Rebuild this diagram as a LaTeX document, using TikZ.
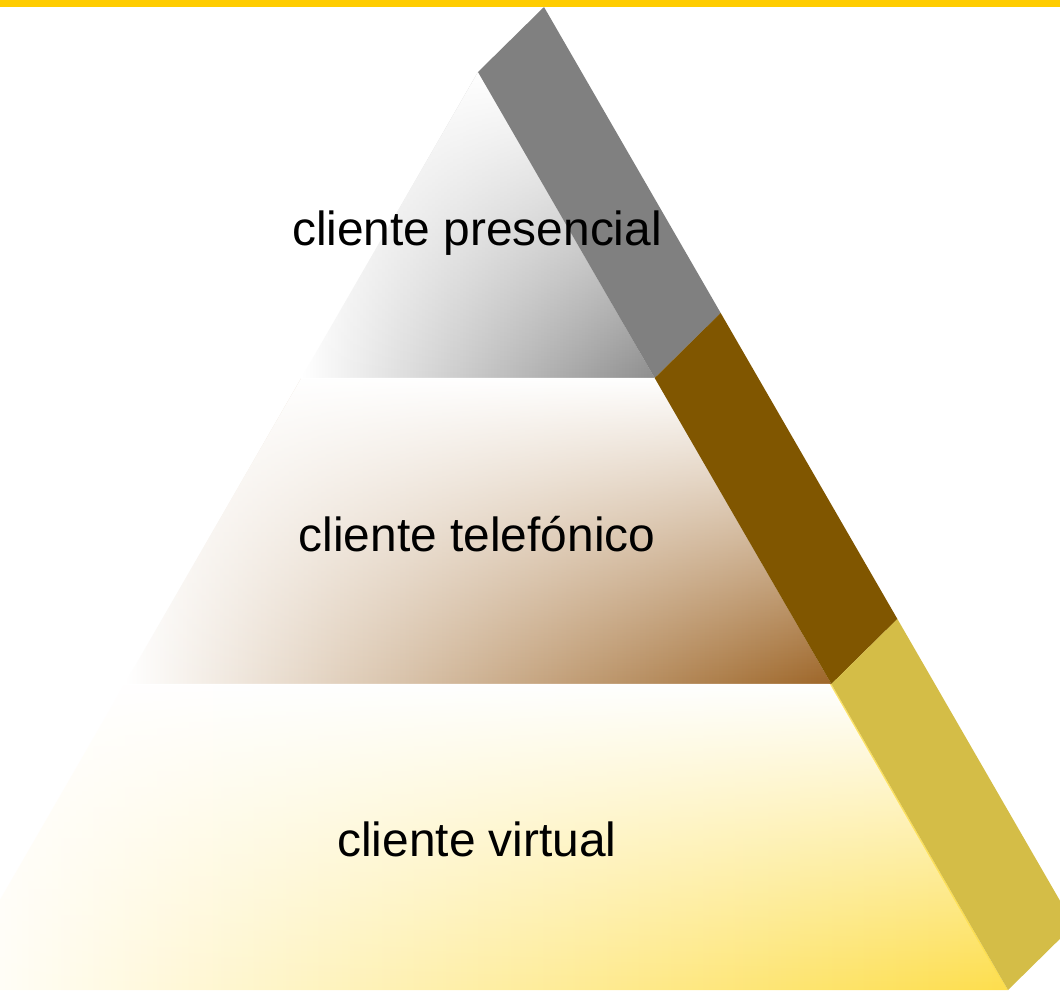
\documentclass[tikz,border=0pt]{standalone}
\usepackage{fontspec}
\setmainfont{Liberation Sans}
\usetikzlibrary{fadings}
\definecolor{topbar}{HTML}{FFCC00}
\definecolor{bandgray}{HTML}{808080}
\definecolor{bandbrown}{HTML}{805600}
\definecolor{bandyellow}{HTML}{D4BD47}
\definecolor{laygray}{HTML}{8E8E8E}
\definecolor{laybrown}{HTML}{9E6628}
\definecolor{laybrownmid}{HTML}{C6B4A4}
\definecolor{layyellow}{HTML}{FDDE4C}
\tikzset{
  labeltext/.style={font=\fontsize{35.9}{40}\selectfont, text=black, inner sep=0pt, anchor=base},
  whitefade/.style={fill=white, path fading=south}
}
\begin{document}
\begin{tikzpicture}[x=0.75pt,y=-0.75pt]
\useasboundingbox (0,0) rectangle (1060,990);
\clip (0,0) rectangle (1060,990);
\fill[white] (0,0) rectangle (1060,990);
% top layer
\shade[left color=white, right color=laygray] (478,72) -- (654.7,378) -- (301.3,378) -- cycle;
\path[whitefade] (478,72) -- (654.7,378) -- (301.3,378) -- cycle;
% middle layer
\shade[left color=white, middle color=laybrownmid, right color=laybrown] (301.3,378) -- (654.7,378) -- (831.4,684) -- (124.6,684) -- cycle;
\path[whitefade] (301.3,378) -- (654.7,378) -- (831.4,684) -- (124.6,684) -- cycle;
% bottom layer
\shade[left color=white, right color=layyellow] (124.6,684) -- (831.4,684) -- (1008,990) -- (-52,990) -- cycle;
\path[whitefade] (124.6,684) -- (831.4,684) -- (1008,990) -- (-52,990) -- cycle;
% band
\fill[bandgray] (478,72) -- (544,7) -- (720.7,313) -- (654.7,378) -- cycle;
\fill[bandbrown] (654.7,378) -- (720.7,313) -- (897.4,619) -- (831.4,684) -- cycle;
\fill[bandyellow] (831.4,684) -- (897.4,619) -- (1074,925) -- (1008,990) -- cycle;
% top bar
\fill[topbar] (0,0) rectangle (1060,7);
% labels
\node[labeltext] (presencial) at (477,245) {cliente presencial};
\node[labeltext] (telefonico) at (477,551) {cliente telefónico};
\node[labeltext] (virtual) at (477,856) {cliente virtual};
\end{tikzpicture}
\end{document}
